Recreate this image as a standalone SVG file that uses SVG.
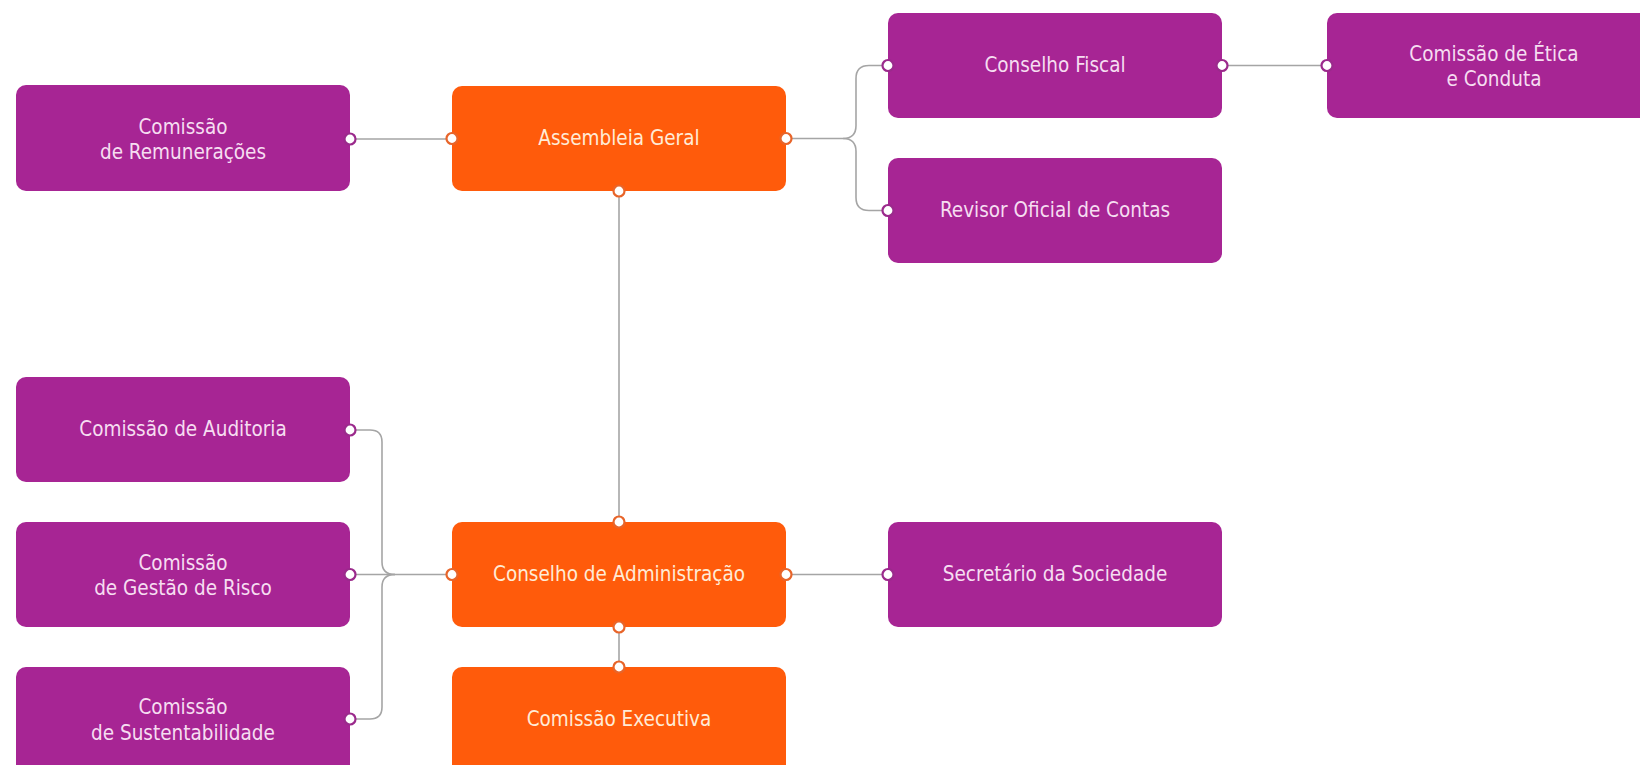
<svg xmlns="http://www.w3.org/2000/svg" width="1640" height="765" viewBox="0 0 1640 765">
<style>
.p rect{fill:#A72594}
.o rect{fill:#FF5B0B}
text{font-family:"DejaVu Sans","Liberation Sans",sans-serif;font-stretch:condensed;font-size:20.5px;text-anchor:middle}
.p text{fill:#F6DDF1}
.o text{fill:#FFEBD6}
.c{fill:none;stroke:#A5A5A5;stroke-width:1.6}
.pp{fill:#fff;stroke:#9B2A8C;stroke-width:2.2}
.op{fill:#fff;stroke:#E8652A;stroke-width:2.2}
</style>
<rect width="1640" height="765" fill="#fff"/>
<g id="connectors">
<path class="c" d="M350,139 H452"/>
<path class="c" d="M786,138.5 H843 Q856,138.5 856,125.5 V78.5 Q856,65.5 869,65.5 H888"/>
<path class="c" d="M843,138.5 Q856,138.5 856,151.5 V197.5 Q856,210.5 869,210.5 H888"/>
<path class="c" d="M1222,65.5 H1327"/>
<path class="c" d="M619,191 V522"/>
<path class="c" d="M350,574.5 H452"/>
<path class="c" d="M350,430 H370 Q382,430 382,442 V562 Q382,574.5 395,574.5"/>
<path class="c" d="M350,719 H370 Q382,719 382,707 V587 Q382,574.5 395,574.5"/>
<path class="c" d="M786,574.5 H888"/>
<path class="c" d="M619,627 V667"/>
</g>
<g id="n-remuneracoes" class="p">
<rect x="16" y="85" width="334" height="106" rx="10"/>
<text x="183" y="134">Comissão</text>
<text x="183" y="159">de Remunerações</text>
<circle class="pp" cx="350" cy="139" r="5.5"/>
</g>
<g id="n-assembleia" class="o">
<rect x="452" y="86" width="334" height="105" rx="10"/>
<text x="619" y="144.5">Assembleia Geral</text>
<circle class="op" cx="452" cy="138.5" r="5.5"/>
<circle class="op" cx="786" cy="138.5" r="5.5"/>
<circle class="op" cx="619" cy="191" r="5.5"/>
</g>
<g id="n-fiscal" class="p">
<rect x="888" y="13" width="334" height="105" rx="10"/>
<text x="1055" y="71.5">Conselho Fiscal</text>
<circle class="pp" cx="888" cy="65.5" r="5.5"/>
<circle class="pp" cx="1222" cy="65.5" r="5.5"/>
</g>
<g id="n-etica" class="p">
<rect x="1327" y="13" width="334" height="105" rx="10"/>
<text x="1494" y="60.5">Comissão de Ética</text>
<text x="1494" y="85.5">e Conduta</text>
<circle class="pp" cx="1327" cy="65.5" r="5.5"/>
</g>
<g id="n-revisor" class="p">
<rect x="888" y="158" width="334" height="105" rx="10"/>
<text x="1055" y="216.5">Revisor Oficial de Contas</text>
<circle class="pp" cx="888" cy="210.5" r="5.5"/>
</g>
<g id="n-auditoria" class="p">
<rect x="16" y="377" width="334" height="105" rx="10"/>
<text x="183" y="436">Comissão de Auditoria</text>
<circle class="pp" cx="350" cy="430" r="5.5"/>
</g>
<g id="n-risco" class="p">
<rect x="16" y="522" width="334" height="105" rx="10"/>
<text x="183" y="569.5">Comissão</text>
<text x="183" y="595">de Gestão de Risco</text>
<circle class="pp" cx="350" cy="574.5" r="5.5"/>
</g>
<g id="n-sustentabilidade" class="p">
<rect x="16" y="667" width="334" height="110" rx="10"/>
<text x="183" y="714">Comissão</text>
<text x="183" y="740">de Sustentabilidade</text>
<circle class="pp" cx="350" cy="719" r="5.5"/>
</g>
<g id="n-administracao" class="o">
<rect x="452" y="522" width="334" height="105" rx="10"/>
<text x="619" y="581">Conselho de Administração</text>
<circle class="op" cx="452" cy="574.5" r="5.5"/>
<circle class="op" cx="786" cy="574.5" r="5.5"/>
<circle class="op" cx="619" cy="522" r="5.5"/>
<circle class="op" cx="619" cy="627" r="5.5"/>
</g>
<g id="n-secretario" class="p">
<rect x="888" y="522" width="334" height="105" rx="10"/>
<text x="1055" y="581">Secretário da Sociedade</text>
<circle class="pp" cx="888" cy="574.5" r="5.5"/>
</g>
<g id="n-executiva" class="o">
<rect x="452" y="667" width="334" height="110" rx="10"/>
<text x="619" y="726">Comissão Executiva</text>
<circle class="op" cx="619" cy="667" r="5.5"/>
</g>
</svg>
